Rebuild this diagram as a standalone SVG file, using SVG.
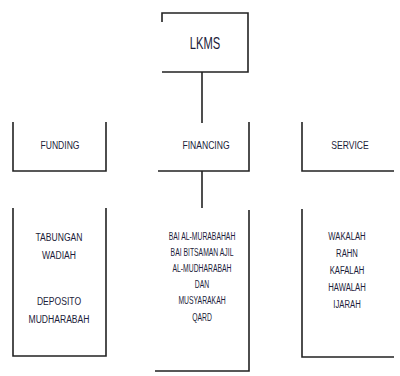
<svg xmlns="http://www.w3.org/2000/svg" width="400" height="376" viewBox="0 0 400 376">
<style>
.ln{fill:none;stroke:#222;stroke-width:1.6}
.t{font-family:"Liberation Sans",Arial,sans-serif;font-size:11px;fill:#1c1c3a;text-anchor:middle}
.big{font-size:16px}
</style>
<rect width="400" height="376" fill="#fff"/>
<g id="connectors">
<line class="ln" x1="202" y1="72" x2="202" y2="123"/>
<line class="ln" x1="202" y1="171" x2="202" y2="208"/>
</g>
<g id="lkms">
<path class="ln" d="M162,22 V13 H248 V72 H162"/>
<text class="t big" transform="translate(205,49) scale(0.7,1)">LKMS</text>
</g>
<g id="funding">
<path class="ln" d="M13,122 V171 H106 V122"/>
<text class="t" transform="translate(60,149) scale(0.78,1)">FUNDING</text>
</g>
<g id="financing">
<path class="ln" d="M158,171 H249 V122"/>
<text class="t" transform="translate(206,149) scale(0.78,1)">FINANCING</text>
</g>
<g id="service">
<path class="ln" d="M302,122 V171 H394"/>
<text class="t" transform="translate(350,149) scale(0.78,1)">SERVICE</text>
</g>
<g id="funding-products">
<path class="ln" d="M13,208 V356 H106 V208"/>
<text class="t" transform="translate(59,241) scale(0.78,1)">TABUNGAN</text>
<text class="t" transform="translate(59,259) scale(0.78,1)">WADIAH</text>
<text class="t" transform="translate(59,305) scale(0.78,1)">DEPOSITO</text>
<text class="t" transform="translate(59,323) scale(0.78,1)">MUDHARABAH</text>
</g>
<g id="financing-products">
<path class="ln" d="M155,371 H249 V210"/>
<text class="t" transform="translate(202,240) scale(0.62,1)">BAI AL-MURABAHAH</text>
<text class="t" transform="translate(202,256) scale(0.62,1)">BAI BITSAMAN AJIL</text>
<text class="t" transform="translate(202,272) scale(0.62,1)">AL-MUDHARABAH</text>
<text class="t" transform="translate(202,288) scale(0.62,1)">DAN</text>
<text class="t" transform="translate(202,304) scale(0.62,1)">MUSYARAKAH</text>
<text class="t" transform="translate(202,321) scale(0.62,1)">QARD</text>
</g>
<g id="service-products">
<path class="ln" d="M302,209 V357 H394"/>
<text class="t" transform="translate(347,240) scale(0.7,1)">WAKALAH</text>
<text class="t" transform="translate(347,257) scale(0.7,1)">RAHN</text>
<text class="t" transform="translate(347,274) scale(0.7,1)">KAFALAH</text>
<text class="t" transform="translate(347,291) scale(0.7,1)">HAWALAH</text>
<text class="t" transform="translate(347,308) scale(0.7,1)">IJARAH</text>
</g>
</svg>
